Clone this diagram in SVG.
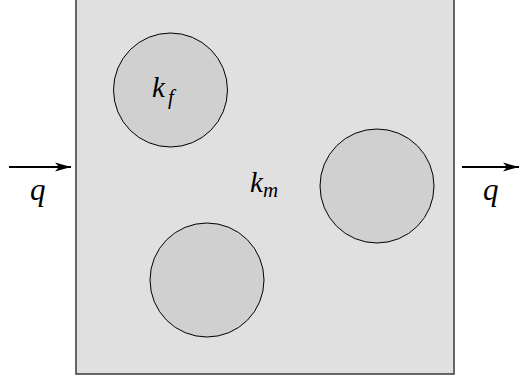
<svg xmlns="http://www.w3.org/2000/svg" width="519" height="381" viewBox="0 0 519 381">
<style>
.box{fill:#e0e0e0;stroke:#444;stroke-width:1.6}
.inc{fill:#d0d0d0;stroke:#000;stroke-width:1}
.arr{stroke:#000;stroke-width:1.8;fill:none}
</style>
<defs>
<marker id="ah" viewBox="0 0 16 10" refX="16" refY="5" markerWidth="16" markerHeight="10" markerUnits="userSpaceOnUse" orient="auto">
<path d="M0,0.5 L16,5 L0,9.5 L4,5 Z" fill="#000"/>
</marker>
</defs>
<g id="matrix">
<rect class="box" x="76" y="-5" width="378" height="379"/>
<text x="250" y="192" font-family="Liberation Serif" font-style="italic" font-size="29">k<tspan font-size="21" dy="5">m</tspan></text>
</g>
<g id="fiber1">
<circle class="inc" cx="170.5" cy="90" r="57"/>
<text x="152" y="97" font-family="Liberation Serif" font-style="italic" font-size="29">k<tspan font-size="21" dx="3" dy="7">f</tspan></text>
</g>
<g id="fiber2">
<circle class="inc" cx="377" cy="186" r="57"/>
</g>
<g id="fiber3">
<circle class="inc" cx="207" cy="280" r="57"/>
</g>
<g id="connectors">
<line class="arr" x1="9" y1="167" x2="71" y2="167" marker-end="url(#ah)"/>
<line class="arr" x1="462" y1="167" x2="519" y2="167" marker-end="url(#ah)"/>
</g>
<text x="30" y="200" font-family="Liberation Serif" font-style="italic" font-size="31">q</text>
<text x="483" y="200" font-family="Liberation Serif" font-style="italic" font-size="31">q</text>
</svg>
